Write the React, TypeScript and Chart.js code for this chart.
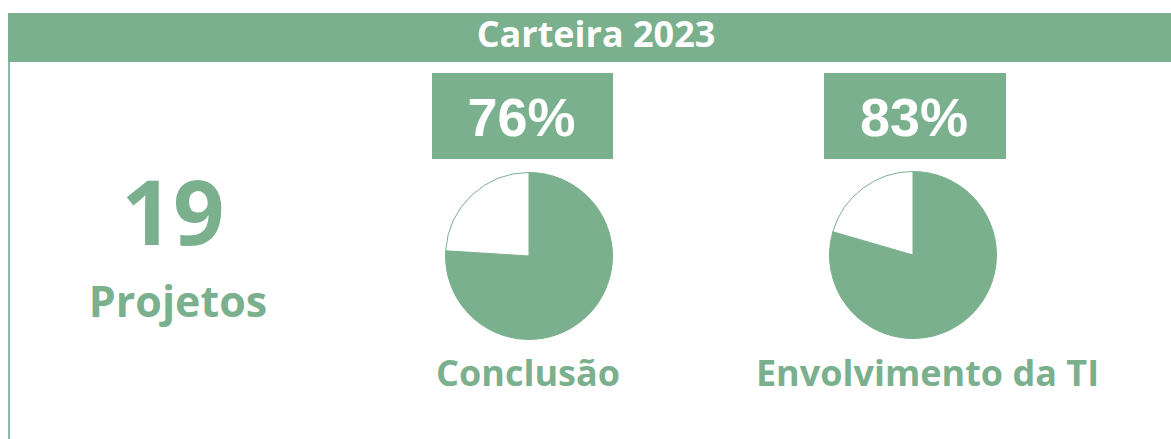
import React, { useEffect, useRef } from "react";
import { Chart, registerables } from "chart.js";

Chart.register(...registerables);

const GREEN = "#7AB08D";

const title = "Carteira 2023";
const projectCount = 19;
const projectLabel = "Projetos";
const pieLabels = ["Conclusão", "Envolvimento da TI"];
const percentLabels = [76, 83];
const pieValues = [76, 79.5];

function Pie({ value, left, top, size }: { value: number; left: number; top: number; size: number }) {
  const ref = useRef<HTMLCanvasElement | null>(null);
  useEffect(() => {
    if (!ref.current) return;
    const chart = new Chart(ref.current, {
      type: "pie",
      data: {
        labels: ["Sim", "Não"],
        datasets: [
          {
            data: [value, 100 - value],
            backgroundColor: [GREEN, "#FFFFFF"],
            borderColor: GREEN,
            borderWidth: 1,
            hoverOffset: 0,
          },
        ],
      },
      options: {
        animation: false,
        responsive: false,
        maintainAspectRatio: false,
        events: [],
        layout: { padding: 0 },
        plugins: { legend: { display: false }, tooltip: { enabled: false } },
      },
    });
    return () => chart.destroy();
  }, [value]);
  return (
    <canvas
      ref={ref}
      width={size}
      height={size}
      style={{ position: "absolute", left, top, width: size, height: size }}
    />
  );
}

function Text({
  text,
  cx,
  baseline,
  size,
  color,
  family,
  ratio,
}: {
  text: string;
  cx: number;
  baseline: number;
  size: number;
  color: string;
  family: string;
  ratio: number;
}) {
  return (
    <div
      style={{
        position: "absolute",
        left: cx - 300,
        width: 600,
        top: baseline - ratio * size,
        fontSize: size,
        lineHeight: 1,
        fontFamily: family,
        fontWeight: 700,
        color,
        textAlign: "center",
        whiteSpace: "nowrap",
      }}
    >
      {text}
    </div>
  );
}

const OPEN = "'Open Sans', sans-serif";
const ARIAL = "'Liberation Sans', Arial, sans-serif";

export default function App() {
  const pieCenters = [
    { cx: 529, cy: 256 },
    { cx: 913, cy: 255 },
  ];
  const boxes = [
    { x: 432, w: 181 },
    { x: 824, w: 182 },
  ];
  const labelCenters = [528, 927.5];
  const pieSize = 168;
  return (
    <div style={{ position: "absolute", left: 0, top: 0, width: 1171, height: 439, background: "#fff", overflow: "hidden" }}>
      <div style={{ position: "absolute", left: 8, top: 13, width: 1163, height: 49, background: GREEN }} />
      <div style={{ position: "absolute", left: 8, top: 62, width: 2, height: 377, background: "#8DBB9D" }} />
      <Text text={title} cx={596} baseline={48} size={36} color="#FFFFFF" family={OPEN} ratio={0.888} />
      <Text text={String(projectCount)} cx={173} baseline={245} size={90} color={GREEN} family={OPEN} ratio={0.888} />
      <Text text={projectLabel} cx={178} baseline={317} size={43} color={GREEN} family={OPEN} ratio={0.888} />
      {percentLabels.map((v, i) => (
        <React.Fragment key={i}>
          <div style={{ position: "absolute", left: boxes[i].x, top: 73, width: boxes[i].w, height: 86, background: GREEN }} />
          <Text text={v + "%"} cx={boxes[i].x + boxes[i].w / 2 - 1} baseline={136} size={54} color="#FFFFFF" family={ARIAL} ratio={0.8465} />
          <Pie value={pieValues[i]} left={pieCenters[i].cx - pieSize / 2} top={pieCenters[i].cy - pieSize / 2} size={pieSize} />
          <Text text={pieLabels[i]} cx={labelCenters[i]} baseline={387} size={36} color={GREEN} family={OPEN} ratio={0.888} />
        </React.Fragment>
      ))}
    </div>
  );
}
